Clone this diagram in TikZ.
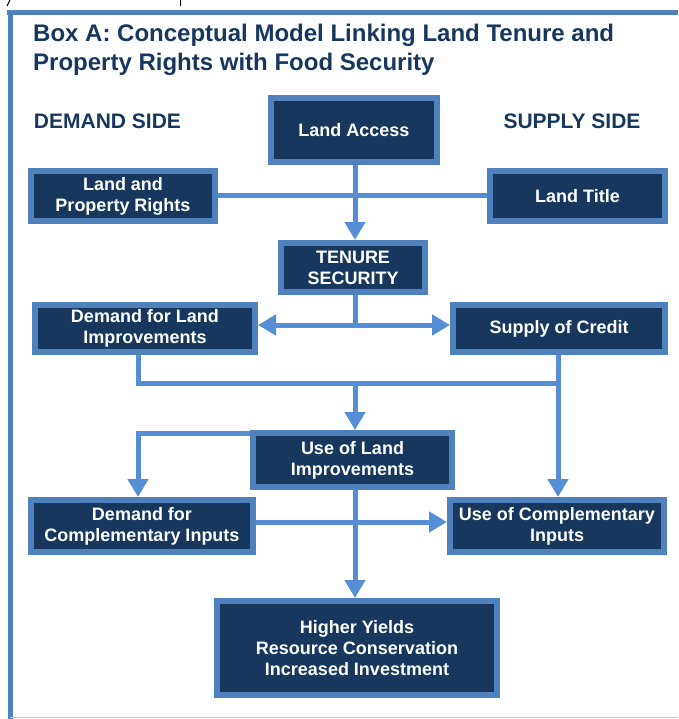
\documentclass[tikz,border=0pt]{standalone}
\usepackage{fontspec}
\setmainfont{Liberation Sans}
\usetikzlibrary{arrows.meta}
\definecolor{darkfill}{HTML}{17375E}
\definecolor{boxline}{HTML}{4F81BD}
\definecolor{connline}{HTML}{558ED5}
\definecolor{titleblue}{HTML}{17375E}
\definecolor{paleline}{HTML}{B0C8E8}
\tikzset{
  flowbox/.style={draw=boxline, line width=6pt, fill=darkfill, text=white,
    font=\bfseries\fontsize{18}{21}\selectfont, align=center, inner sep=0pt},
  conn/.style={draw=connline, line width=5pt},
  arr/.style={-{Triangle[length=18pt,width=20pt]}},
  darr/.style={{Triangle[length=18pt,width=20pt]}-{Triangle[length=18pt,width=20pt]}},
  sidelabel/.style={text=titleblue, font=\bfseries\fontsize{21}{24}\selectfont, inner sep=0pt},
}
\begin{document}
\begin{tikzpicture}[x=1pt,y=-1pt]
\useasboundingbox (0,0) rectangle (678,719);
% cropped fragments at the top
\draw[black, line width=1pt] (180,0) -- (180,6);
\draw[black, line width=1pt] (7,6) .. controls (8,3) .. (10,0);
% outer frame
\draw[boxline, line width=5pt] (7,12.5) -- (678,12.5);
\draw[boxline, line width=5pt] (10.5,10) -- (10.5,719);
\draw[paleline, line width=1.5pt] (10,717.5) -- (678,717.5);
% title
\node[anchor=north west, text=titleblue, align=left, inner sep=0pt,
  font=\bfseries\fontsize{24}{28.5}\selectfont] (ttl) at (33,24)
  {Box A: Conceptual Model Linking Land Tenure and\\Property Rights with Food Security};
\node[sidelabel] (dside) at (107.5,121) {DEMAND SIDE};
\node[sidelabel] (sside) at (572,121) {SUPPLY SIDE};
% boxes
\node[flowbox, minimum width=166pt, minimum height=64pt] (access) at (354,130) {Land Access};
\node[flowbox, minimum width=184pt, minimum height=50pt] (rights) at (123,196) {Land and\\Property Rights};
\node[flowbox, minimum width=175pt, minimum height=50pt] (ltitle) at (577.5,196) {Land Title};
\node[flowbox, minimum width=144pt, minimum height=49pt] (tenure) at (353,267.5) {TENURE\\SECURITY};
\node[flowbox, minimum width=220pt, minimum height=47pt] (demland) at (145,328.5) {Demand for Land\\Improvements};
\node[flowbox, minimum width=212pt, minimum height=47pt] (credit) at (559,328.5) {Supply of Credit};
\node[flowbox, minimum width=199pt, minimum height=54pt] (useland) at (352.5,460) {Use of Land\\Improvements};
\node[flowbox, minimum width=222pt, minimum height=52pt] (demcomp) at (142,526) {Demand for\\Complementary Inputs};
\node[flowbox, minimum width=214pt, minimum height=52pt] (usecomp) at (557,526) {Use of Complementary\\Inputs};
\node[flowbox, minimum width=280pt, minimum height=94pt] (yields) at (357,648) {Higher Yields\\Resource Conservation\\Increased Investment};
% helper coordinates
\coordinate (mx) at (355,0);
\coordinate (dl) at (138,0);
\coordinate (cr) at (558,0);
\coordinate (j1) at (355,325);
\coordinate (m) at (355,383);
\coordinate (u) at (0,433);
\coordinate (c) at (0,522);
% connectors
\draw[conn, arr] (access.south -| mx) -- (tenure.north -| mx);
\draw[conn] (rights.east) -- (ltitle.west);
\draw[conn] (tenure.south -| mx) -- (j1);
\draw[conn, darr] (demland.east |- j1) -- (credit.west |- j1);
\draw[conn] (demland.south -| dl) |- (m -| cr);
\draw[conn, arr] (credit.south -| cr) -- (usecomp.north -| cr);
\draw[conn, arr] (m) -- (useland.north -| m);
\draw[conn, arr] (useland.west |- u) -| (demcomp.north -| dl);
\draw[conn, arr] (demcomp.east |- c) -- (usecomp.west |- c);
\draw[conn, arr] (useland.south -| mx) -- (yields.north -| mx);
\end{tikzpicture}
\end{document}
